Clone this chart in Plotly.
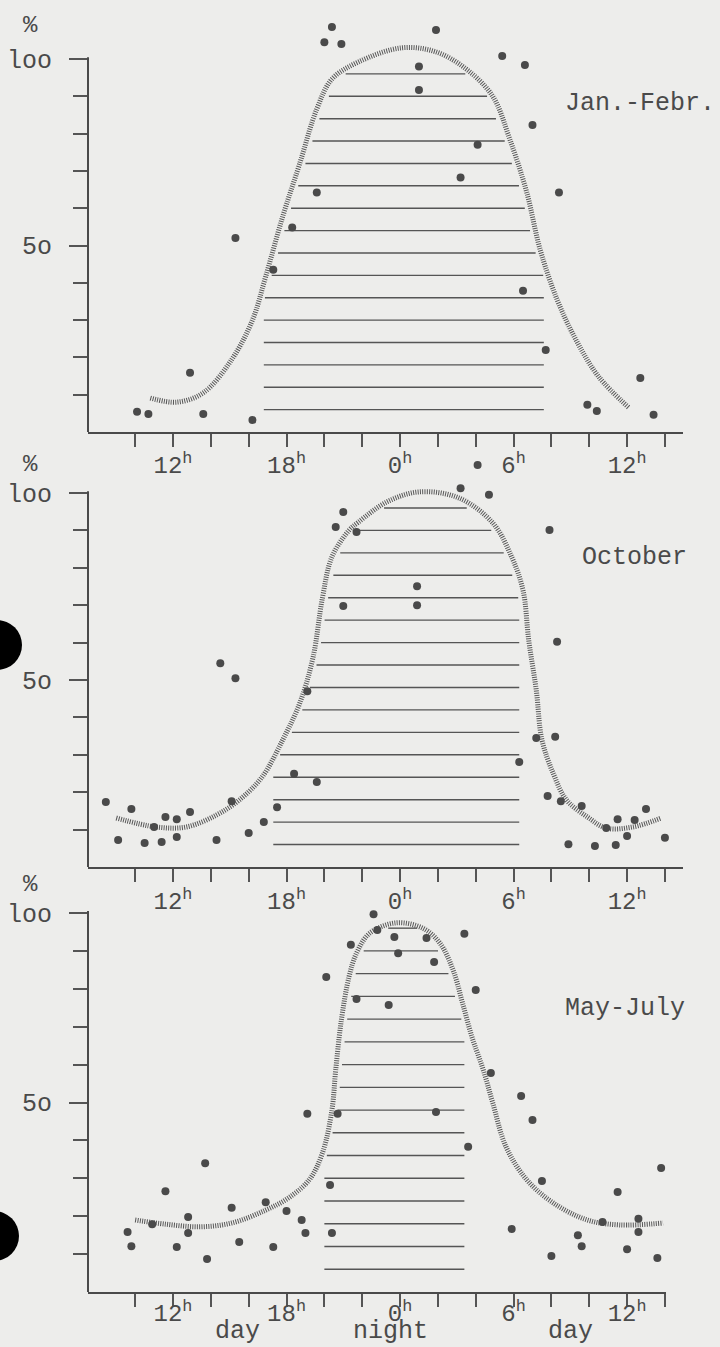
import numpy as np
import plotly.graph_objects as go

# Hours are counted on from the first noon: 24 = 0h (midnight), 36 = 12h next day
label_hours = [12, 18, 24, 30, 36]
label_names = ["12", "18", "0", "6", "12"]
minor_hours = [10, 14, 16, 20, 22, 26, 28, 32, 34, 38]
pct_major = [50, 100]
pct_major_names = ["5o", "loo"]
pct_minor = [10, 20, 30, 40, 60, 70, 80, 90]
hatch_levels = [6, 12, 18, 24, 30, 36, 42, 48, 54, 60, 66, 72, 78, 84, 90, 96]

# --- Jan.-Febr. ---
jan_dot_hours = [10.1, 10.7, 12.9, 13.6, 15.3, 16.2, 17.3, 18.3, 19.6, 20.0, 20.4, 20.9,
                 25.9, 25.0, 25.0, 29.4, 30.6, 31.0, 28.1, 27.2, 32.4, 30.5, 31.7, 36.7,
                 33.9, 34.4, 37.4]
jan_dot_pct = [5.4, 4.8, 15.9, 4.8, 52, 3.2, 43.5, 54.8, 64.2, 104.5, 108.6, 104,
               107.8, 98, 91.7, 100.8, 98.4, 82.3, 77, 68.2, 64.2, 37.9, 22, 14.5,
               7.3, 5.6, 4.6]
jan_curve_hours = [10.8, 12.2, 13.6, 15.1, 16.2, 16.9, 17.8, 18.7, 19.6, 20.4, 21.8, 24.1,
                   25.9, 27.5, 28.9, 29.8, 30.7, 31.4, 32.3, 33.3, 34.5, 36.1]
jan_curve_pct = [9.1, 8, 10.5, 19.4, 30, 41.7, 57.8, 72, 86.6, 94.6, 99.2, 103,
                 101.9, 97.3, 90, 78.5, 64.2, 49, 35.5, 24.7, 14.8, 6.5]
jan_night = (16.8, 31.6)

# --- October ---
oct_dot_hours = [8.45, 9.1, 9.8, 10.5, 11.0, 11.4, 11.6, 12.2, 12.2, 12.9, 14.3, 14.5,
                 15.3, 15.1, 16.0, 16.8, 17.5, 18.4, 19.6, 19.1, 21.0, 20.6, 21.0, 21.7,
                 28.1, 27.2, 28.7, 31.9, 24.9, 24.9, 32.3, 31.2, 32.2, 30.3, 31.8, 32.5,
                 33.6, 32.9, 34.3, 34.9, 35.4, 35.5, 36.0, 36.4, 37.0, 38.0]
oct_dot_pct = [17.4, 7.2, 15.5, 6.4, 10.7, 6.7, 13.4, 12.8, 8.0, 14.7, 7.2, 54.5,
               50.5, 17.6, 9.1, 12.0, 16.0, 24.9, 22.7, 47, 69.8, 90.9, 94.9, 89.6,
               107.5, 101.3, 99.5, 90.1, 75.1, 70, 60.2, 34.5, 34.8, 28.1, 19, 17.6,
               16.3, 6.1, 5.6, 10.4, 5.9, 12.8, 8.3, 12.6, 15.5, 7.8]
oct_curve_hours = [9.0, 11.1, 12.7, 14.3, 15.5, 16.7, 17.8, 18.7, 19.4, 19.9, 20.4, 21.3,
                   21.8, 23.3, 25.0, 27.1, 28.9, 29.9, 30.5, 30.8, 31.2, 31.5, 32.1, 32.8,
                   33.9, 34.9, 36.3, 37.8]
oct_curve_pct = [13.1, 10.7, 10.7, 13.9, 17.9, 24, 34, 43.8, 56, 72, 82.9, 90,
                 92.2, 97.6, 100.3, 98.7, 92, 82.9, 74, 60.7, 47.3, 34, 25, 17.9,
                 13.4, 10.4, 10.7, 13.1]
oct_night = (17.3, 30.3)

# --- May-July ---
may_dot_hours = [9.6, 9.8, 10.9, 11.6, 12.2, 12.8, 12.8, 13.7, 13.8, 15.1, 15.5, 16.9,
                 17.3, 18.0, 18.8, 19.0, 19.1, 20.3, 20.4, 20.7, 20.1, 21.4, 21.7,
                 22.6, 22.8, 23.7, 23.9, 25.4, 25.8, 23.4, 27.4, 28.0, 28.8, 30.4, 31.0,
                 25.9, 27.6, 31.5, 35.5, 37.8, 29.9, 32.0, 33.4, 33.6, 34.7, 36.0, 36.6,
                 36.6, 37.6]
may_dot_pct = [15.8, 12.1, 17.9, 26.6, 11.9, 19.8, 15.6, 34, 8.7, 22.2, 13.2, 23.7,
               11.9, 21.4, 19, 15.6, 47, 28.2, 15.6, 47, 83.1, 91.6, 77.3,
               99.7, 95.5, 93.7, 89.4, 93.4, 87.1, 75.7, 94.5, 79.7, 57.8, 51.7, 45.4,
               47.5, 38.3, 29.3, 26.4, 32.7, 16.6, 9.5, 15, 12.1, 18.5, 11.3, 19.3,
               15.8, 9.0]
may_curve_hours = [10.0, 11.6, 13.4, 15.1, 16.9, 18.1, 19.2, 19.9, 20.4, 20.6, 20.9, 21.3,
                   21.7, 22.4, 23.8, 25.2, 26.1, 26.8, 27.3, 27.8, 28.4, 28.9, 29.6, 30.7,
                   32.1, 33.9, 35.6, 37.9]
may_curve_pct = [19, 17.9, 17.2, 18.2, 21.6, 24.8, 29.6, 36.7, 48, 58.6, 71.8, 83.1,
                 89.4, 94.7, 97.4, 96, 92.1, 85, 76.3, 67.3, 58.6, 49.9, 38.3, 29.6,
                 23.5, 19, 17.7, 18.2]
may_night = (20.0, 27.4)

titles = ["Jan.-Febr.", "October", "May-July"]
bottom_words = ["day", "night", "day"]

# page geometry (pixels)
W, H = 720, 1347
ML, MR = 88, 37
INK = "#4a4a4a"
FONT = "Liberation Mono"
PAPER = "#ededeb"

panels = [
    dict(title=titles[0], dots=(jan_dot_hours, jan_dot_pct), curve=(jan_curve_hours, jan_curve_pct),
         night=jan_night, y0=432, unit=3.73, top=112, xend=683, title_xy=(563, 103), pct_y=25,
         standoff=-3),
    dict(title=titles[1], dots=(oct_dot_hours, oct_dot_pct), curve=(oct_curve_hours, oct_curve_pct),
         night=oct_night, y0=867, unit=3.74, top=112, xend=683, title_xy=(580, 557), pct_y=465,
         standoff=-2),
    dict(title=titles[2], dots=(may_dot_hours, may_dot_pct), curve=(may_curve_hours, may_curve_pct),
         night=may_night, y0=1292, unit=3.79, top=105, xend=666, title_xy=(563, 1008), pct_y=884,
         standoff=-15),
]


def hour_at(px):
    return 12 + (px - 173) / 18.92


def paper_x(px):
    return (px - ML) / (W - ML - MR)


def paper_y(py):
    return 1 - py / H


def crossing(hours, pct, level, side):
    """hour where the fitted curve passes a given level, on its rising or falling side"""
    hours = np.asarray(hours)
    pct = np.asarray(pct)
    pk = int(np.argmax(pct))
    if side == "left":
        h, v = hours[:pk + 1], pct[:pk + 1]
        for j in range(len(v) - 1, 0, -1):
            if v[j - 1] < level <= v[j]:
                return h[j - 1] + (level - v[j - 1]) / (v[j] - v[j - 1]) * (h[j] - h[j - 1])
        return h[0]
    h, v = hours[pk:], pct[pk:]
    for j in range(len(v) - 1):
        if v[j] >= level > v[j + 1]:
            return h[j] + (v[j] - level) / (v[j] - v[j + 1]) * (h[j + 1] - h[j])
    return h[-1]


hour_text = [f"{n}<sup>h</sup>" for n in label_names]

fig = go.Figure()
shapes = []
annotations = []

for i, p in enumerate(panels, start=1):
    xa = "x" if i == 1 else f"x{i}"
    ya = "y" if i == 1 else f"y{i}"
    ch, cv = p["curve"]

    # night hatching, clipped by the curve
    hx, hy = [], []
    for lev in hatch_levels:
        if lev >= max(cv):
            continue
        a = max(p["night"][0], crossing(ch, cv, lev, "left") + 0.3)
        b = min(p["night"][1], crossing(ch, cv, lev, "right") - 0.3)
        if b > a:
            hx += [a, b, None]
            hy += [lev, lev, None]
    fig.add_trace(go.Scatter(x=hx, y=hy, mode="lines", xaxis=xa, yaxis=ya,
                             line=dict(color="#555555", width=1.4), hoverinfo="skip",
                             showlegend=False))

    # fitted curve (dotted band)
    fig.add_trace(go.Scatter(x=ch, y=cv, mode="lines", xaxis=xa, yaxis=ya,
                             line=dict(color="#585858", width=5, shape="spline",
                                       smoothing=1.0, dash="1px,1.3px"),
                             showlegend=False))

    # observations
    fig.add_trace(go.Scatter(x=p["dots"][0], y=p["dots"][1], mode="markers",
                             xaxis=xa, yaxis=ya, cliponaxis=False,
                             marker=dict(size=8, color=INK), showlegend=False))

    y_top_px = p["y0"] - p["top"] * p["unit"]
    fig.update_layout({
        ("xaxis" if i == 1 else f"xaxis{i}"): dict(
            domain=[0, paper_x(p["xend"])], range=[hour_at(ML), hour_at(p["xend"])],
            anchor=ya, showline=True, linecolor=INK, linewidth=2, showgrid=False,
            zeroline=False, ticks="outside", ticklen=13, tickwidth=1.5, tickcolor="#555",
            tickmode="array", tickvals=label_hours, ticktext=hour_text,
            tickfont=dict(family=FONT, size=24, color=INK), ticklabelstandoff=p["standoff"],
            minor=dict(tickmode="array", tickvals=minor_hours, ticks="outside", ticklen=13,
                       tickwidth=1.5, tickcolor="#555", showgrid=False),
        ),
        ("yaxis" if i == 1 else f"yaxis{i}"): dict(
            domain=[paper_y(p["y0"]), paper_y(y_top_px)], range=[0, p["top"]],
            anchor=xa, showline=False, showgrid=False, zeroline=False,
            ticks="outside", ticklen=18, tickwidth=1.5, tickcolor="#555",
            tickmode="array", tickvals=pct_major, ticktext=pct_major_names,
            tickfont=dict(family=FONT, size=25, color=INK), ticklabelstandoff=12,
            minor=dict(tickmode="array", tickvals=pct_minor, ticks="outside", ticklen=14,
                       tickwidth=1.5, tickcolor="#555", showgrid=False),
        ),
    })

    # y axis line stops at 100 %
    shapes.append(dict(type="line", xref=f"{xa} domain", yref=ya, x0=0, x1=0, y0=0, y1=100.5,
                       line=dict(color=INK, width=2)))

    annotations.append(dict(text=p["title"], xref="paper", yref="paper",
                            x=paper_x(p["title_xy"][0]), y=paper_y(p["title_xy"][1]),
                            xanchor="left", yanchor="middle", showarrow=False,
                            font=dict(family=FONT, size=25, color=INK)))
    annotations.append(dict(text="%", xref="paper", yref="paper",
                            x=paper_x(31), y=paper_y(p["pct_y"]),
                            xanchor="center", yanchor="middle", showarrow=False,
                            font=dict(family=FONT, size=24, color=INK)))

# day / night words under the last panel
for word, px in zip(bottom_words, [237, 390, 570]):
    annotations.append(dict(text=word, xref="paper", yref="paper",
                            x=paper_x(px), y=paper_y(1331), xanchor="center",
                            yanchor="middle", showarrow=False,
                            font=dict(family=FONT, size=25, color=INK)))

# binder holes of the scanned page
for cx, cy, r in [(-3, 645, 25), (-6, 1236, 25)]:
    shapes.append(dict(type="circle", xref="paper", yref="paper",
                       x0=paper_x(cx - r), x1=paper_x(cx + r),
                       y0=paper_y(cy + r), y1=paper_y(cy - r),
                       fillcolor="black", line=dict(width=0)))

fig.update_layout(
    width=W, height=H,
    margin=dict(l=ML, r=MR, t=0, b=0),
    paper_bgcolor=PAPER,
    plot_bgcolor=PAPER,
    shapes=shapes,
    annotations=annotations,
    showlegend=False,
)

# the page is exactly the figure size, so drop the default body margin
fig.write_html("out.html", config={"displayModeBar": False},
               post_script="document.body.style.margin='0px';")
